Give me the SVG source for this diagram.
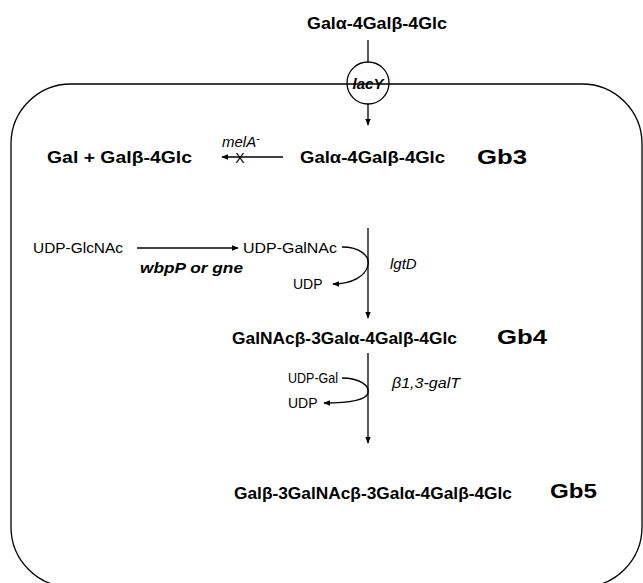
<svg xmlns="http://www.w3.org/2000/svg" width="643" height="583" viewBox="0 0 643 583">
<style>
text{font-family:"Liberation Sans",Arial,sans-serif;fill:#000}
.b{font-weight:bold;font-size:17px}
.g{font-weight:bold;font-size:20px}
.n{font-size:14px}
.i{font-style:italic;font-size:15px}
.bi{font-style:italic;font-weight:bold;font-size:15px}
.ln{stroke:#000;stroke-width:1.3;fill:none}
</style>
<defs>
<marker id="ah" viewBox="0 0 10 10" refX="9" refY="5" markerWidth="7" markerHeight="7" markerUnits="userSpaceOnUse" orient="auto">
<path d="M0,1 L10,5 L0,9 z" fill="#000"/>
</marker>
</defs>
<g id="cell">
<rect x="11" y="84" width="631" height="503" rx="60" ry="60" class="ln"/>
</g>
<g id="connectors">
<line x1="368" y1="40" x2="368" y2="62" class="ln"/>
<line x1="368" y1="104" x2="368" y2="125" class="ln" marker-end="url(#ah)"/>
<line x1="283" y1="157" x2="222" y2="157" class="ln" marker-end="url(#ah)"/>
<line x1="137" y1="248" x2="238" y2="248" class="ln" marker-end="url(#ah)"/>
<line x1="368" y1="228" x2="368" y2="318" class="ln" marker-end="url(#ah)"/>
<path d="M342,247 C360,247 370,256 368,265 C366,276 352,284 333,284" class="ln" marker-end="url(#ah)"/>
<line x1="368" y1="353" x2="368" y2="443" class="ln" marker-end="url(#ah)"/>
<path d="M342,378 C360,378 370,386 368,393 C366,400 352,403 324,403" class="ln" marker-end="url(#ah)"/>
</g>
<g id="lactose-ext">
<text x="307" y="29" class="b" textLength="140" lengthAdjust="spacingAndGlyphs">Galα-4Galβ-4Glc</text>
</g>
<g id="lacY">
<circle cx="368" cy="83" r="21" fill="#fff" class="ln"/>
<text x="368" y="89" class="bi" font-size="16" text-anchor="middle">lacY</text>
</g>
<g id="gb3">
<text x="300" y="163" class="b" textLength="145" lengthAdjust="spacingAndGlyphs">Galα-4Galβ-4Glc</text>
<text x="477" y="164" class="g" textLength="50" lengthAdjust="spacingAndGlyphs">Gb3</text>
</g>
<g id="melA">
<text x="222" y="147" class="i">melA<tspan dy="-5" font-size="10">-</tspan></text>
<text x="240" y="163" class="n" font-size="16" text-anchor="middle">X</text>
</g>
<g id="products">
<text x="47" y="163" class="b" textLength="145" lengthAdjust="spacingAndGlyphs">Gal + Galβ-4Glc</text>
</g>
<g id="udpglcnac">
<text x="33" y="253" class="n" textLength="90" lengthAdjust="spacingAndGlyphs">UDP-GlcNAc</text>
<text x="140" y="273" class="bi" textLength="103" lengthAdjust="spacingAndGlyphs">wbpP or gne</text>
</g>
<g id="udpgalnac">
<text x="243" y="253" class="n" textLength="94" lengthAdjust="spacingAndGlyphs">UDP-GalNAc</text>
<text x="293" y="289" class="n">UDP</text>
<text x="390" y="269" class="i">lgtD</text>
</g>
<g id="gb4">
<text x="232" y="344" class="b" textLength="225" lengthAdjust="spacingAndGlyphs">GalNAcβ-3Galα-4Galβ-4Glc</text>
<text x="497" y="344" class="g" textLength="50" lengthAdjust="spacingAndGlyphs">Gb4</text>
</g>
<g id="udpgal">
<text x="288" y="383" class="n" textLength="50" lengthAdjust="spacingAndGlyphs">UDP-Gal</text>
<text x="288" y="408" class="n">UDP</text>
<text x="392" y="388" class="i" textLength="68" lengthAdjust="spacingAndGlyphs">β1,3-galT</text>
</g>
<g id="gb5">
<text x="234" y="499" class="b" textLength="278" lengthAdjust="spacingAndGlyphs">Galβ-3GalNAcβ-3Galα-4Galβ-4Glc</text>
<text x="550" y="498" class="g" textLength="47" lengthAdjust="spacingAndGlyphs">Gb5</text>
</g>
</svg>
